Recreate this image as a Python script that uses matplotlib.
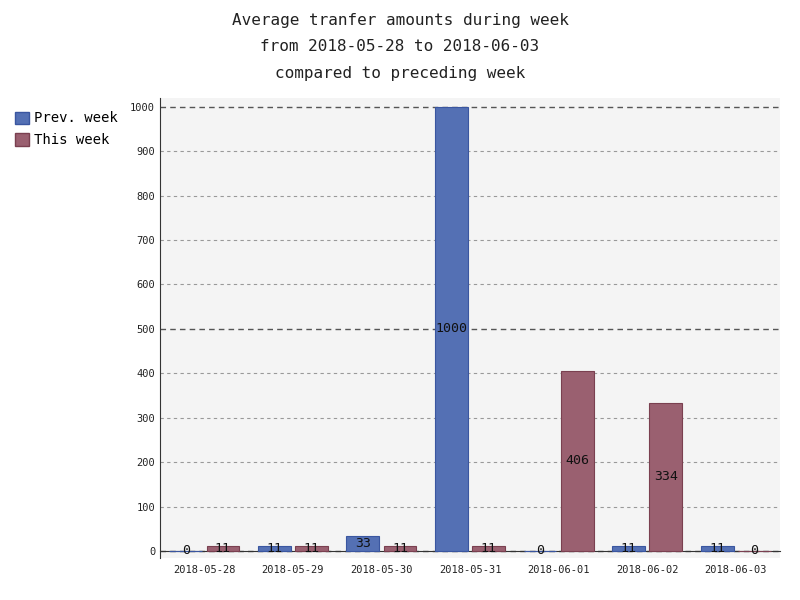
import matplotlib
matplotlib.use("Agg")
import matplotlib.pyplot as plt
from matplotlib.patches import Patch
import numpy as np

dates = ["2018-05-28", "2018-05-29", "2018-05-30", "2018-05-31", "2018-06-01", "2018-06-02", "2018-06-03"]
prev_week = [0, 11, 33, 1000, 0, 11, 11]
this_week = [11, 11, 11, 11, 406, 334, 0]

blue = "#5470b4"
red = "#9a6070"
plt.rcParams['font.family'] = ['DejaVu Sans Mono']

fig = plt.figure(figsize=(8, 6), dpi=100)
ax = fig.add_axes([0.2, 0.07, 0.775, 0.767])
ax.set_facecolor("#f4f4f4")
x = np.arange(len(dates)) + 0.5
w = 0.37
off = 0.21
ax.bar(x - off, prev_week, w, color=blue, edgecolor="#3a56a0", linewidth=0.8, zorder=3)
ax.bar(x + off, this_week, w, color=red, edgecolor="#7a4050", linewidth=0.8, zorder=3)
for xi, v in zip(x - off, prev_week):
    ax.text(xi, v / 2, str(v), ha="center", va="center", fontsize=9.5, color="#111", zorder=4)
for xi, v in zip(x + off, this_week):
    ax.text(xi, v / 2, str(v), ha="center", va="center", fontsize=9.5, color="#111", zorder=4)

ax.set_xlim(0, len(dates))
ax.set_ylim(-15.8, 1020)
ax.set_yticks(range(0, 1001, 100))
ax.set_xticks(x)
ax.set_xticklabels(dates)
ax.tick_params(axis="both", labelsize=7.5, length=0, colors="#222")
ax.tick_params(axis="x", pad=10)
for t in range(0, 1001, 100):
    major = t % 500 == 0
    ax.axhline(t, color="#555" if major else "#999", linestyle=(0, (4, 3)) if major else (0, (3, 3)),
               linewidth=1.0 if major else 0.8, zorder=1)
for s in ["top", "right"]:
    ax.spines[s].set_visible(False)
ax.spines["left"].set_color("#333")
ax.spines["bottom"].set_color("#333")
ax.spines["bottom"].set_position(("data", 0))

fig.text(0.5, 0.966, "Average tranfer amounts during week", ha="center", va="center", fontsize=11.5, color="#222")
fig.text(0.5, 0.922, "from 2018-05-28 to 2018-06-03", ha="center", va="center", fontsize=11.5, color="#222")
fig.text(0.5, 0.878, "compared to preceding week", ha="center", va="center", fontsize=11.5, color="#222")

handles = [Patch(facecolor=blue, edgecolor="#3a56a0", label="Prev. week"),
           Patch(facecolor=red, edgecolor="#7a4050", label="This week")]
fig.legend(handles=handles, loc="upper left", bbox_to_anchor=(0.003, 0.835), frameon=False,
           fontsize=10, handlelength=1.0, handleheight=1.0, handletextpad=0.4, labelspacing=0.55)
fig.savefig("out.png", dpi=100)
